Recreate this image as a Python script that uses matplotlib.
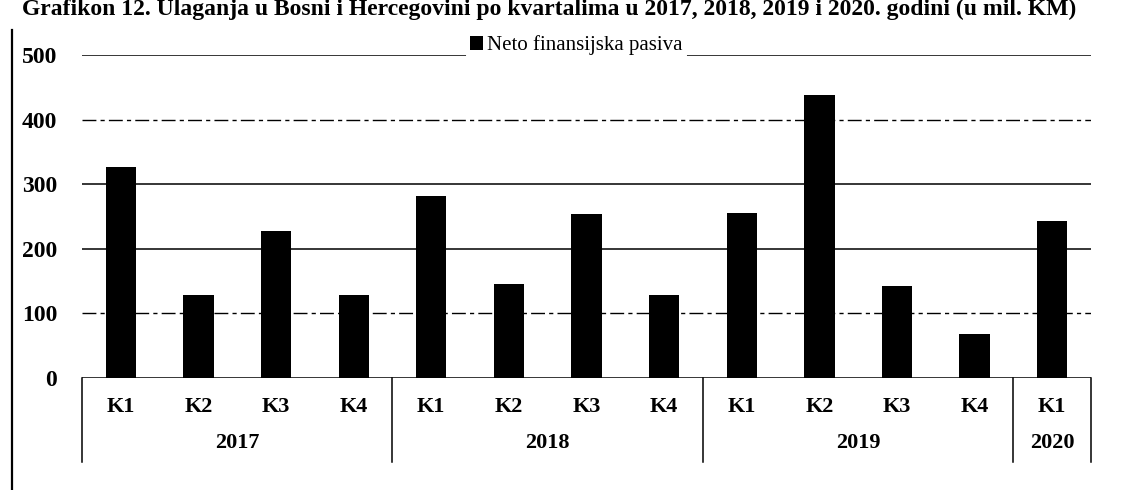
import matplotlib.pyplot as plt
from matplotlib.lines import Line2D

# data (mil. KM)
years = ["2017", "2018", "2019", "2020"]
quarters_per_year = [4, 4, 4, 1]
quarter_labels = ["K1", "K2", "K3", "K4",
                  "K1", "K2", "K3", "K4",
                  "K1", "K2", "K3", "K4",
                  "K1"]
neto_pasiva = [327, 128, 227, 128,
               282, 145, 254, 128,
               255, 438, 142, 68,
               243]
y_ticks = [0, 100, 200, 300, 400, 500]

serif = "Liberation Serif"

fig = plt.figure(figsize=(11.25, 4.9), dpi=100)
ax = fig.add_axes([0.0729, 0.2286, 0.8969, 0.6592])

n = len(neto_pasiva)
xs = list(range(n))
ax.set_xlim(-0.5, n - 0.5)
ax.set_ylim(0, 500)

# gridlines (scan makes some look broken)
for t in y_ticks:
    if t in (100, 400):
        ax.axhline(t, color="black", lw=1.0, ls=(0, (10, 3, 3, 3)), zorder=1)
    else:
        ax.axhline(t, color="black", lw=1.1, zorder=1)

ax.bar(xs, neto_pasiva, width=0.39, color="black", zorder=2,
       label="Neto finansijska pasiva")

for s in ax.spines.values():
    s.set_visible(False)
ax.set_xticks([])
ax.set_yticks(y_ticks)
ax.set_yticklabels([str(t) for t in y_ticks], fontfamily=serif,
                   fontweight="bold", fontsize=17)
ax.tick_params(axis="y", length=0, pad=18)

# two-level category axis
tr = ax.get_xaxis_transform()
for x, lab in zip(xs, quarter_labels):
    ax.text(x, -0.09, lab, transform=tr, ha="center", va="center",
            fontfamily=serif, fontweight="bold", fontsize=16)

start = 0
bounds = [-0.5]
for yr, cnt in zip(years, quarters_per_year):
    mid = start + (cnt - 1) / 2
    ax.text(mid, -0.20, yr, transform=tr, ha="center", va="center",
            fontfamily=serif, fontweight="bold", fontsize=16)
    start += cnt
    bounds.append(start - 0.5)
for b in bounds:
    ax.plot([b, b], [0, -0.26], transform=tr, color="black", lw=1.1,
            clip_on=False)

leg = ax.legend(loc="center", bbox_to_anchor=(0.49, 1.03), frameon=True,
                prop={"family": serif, "size": 15}, handlelength=0.6,
                handleheight=0.6, handletextpad=0.2, borderpad=0.2,
                borderaxespad=0)
leg.get_frame().set_facecolor("white")
leg.get_frame().set_edgecolor("none")
leg.get_frame().set_alpha(1)

# frame line of the scanned page and the caption at the top edge
fig.add_artist(Line2D([0.0107, 0.0107], [0.0, 0.939], color="black", lw=1.6))
fig.text(0.02, 0.969, "Grafikon 12. Ulaganja u Bosni i Hercegovini po kvartalima "
         "u 2017, 2018, 2019 i 2020. godini (u mil. KM)",
         fontfamily=serif, fontweight="bold", fontsize=17, va="baseline")

fig.savefig("out.png", dpi=100)
